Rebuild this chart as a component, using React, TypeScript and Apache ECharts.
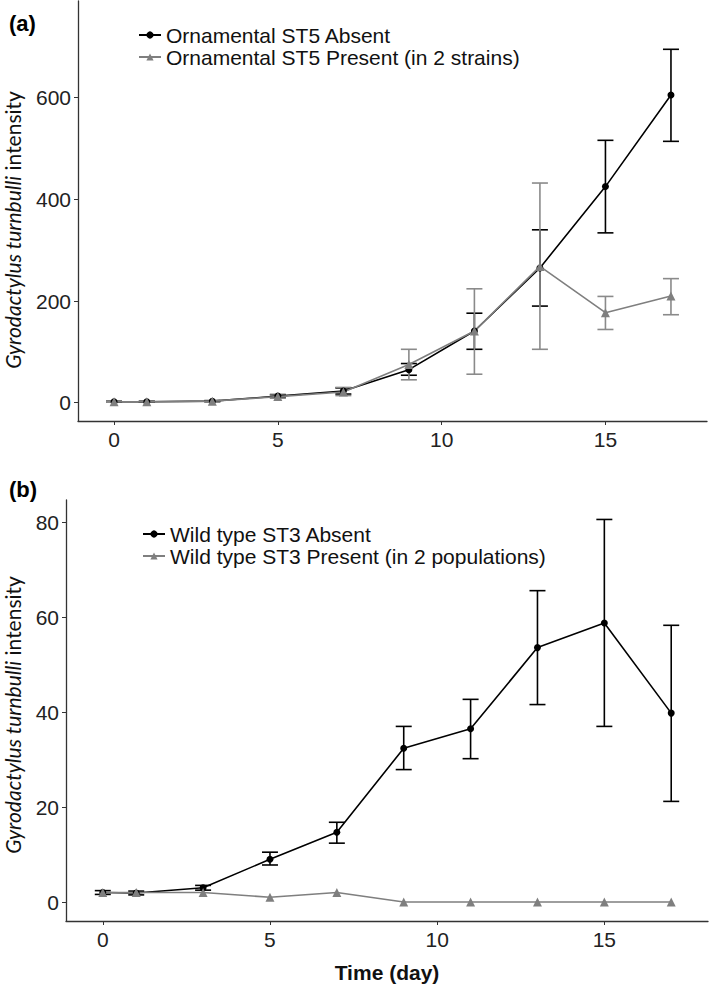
import React, { useEffect, useRef } from "react";
import * as echarts from "echarts";

// ---- Data ----
const days = [0, 1, 3, 5, 7, 9, 11, 13, 15, 17];

// Panel (a): Ornamental
const aAbsentMean = [2, 2, 3, 13, 23, 65, 141, 265, 425, 605];
const aAbsentLow = [1, 1, 2, 10, 17, 54, 105, 190, 334, 514];
const aAbsentHigh = [3, 3, 4, 16, 29, 77, 176, 340, 516, 695];
const aPresentMean = [2, 2, 3, 12, 21, 75, 141, 268, 177, 210];
const aPresentLow = [1, 1, 2, 9, 14, 45, 56, 105, 144, 173];
const aPresentHigh = [3, 3, 4, 15, 30, 105, 224, 432, 209, 244];

// Panel (b): Wild type
const bAbsentMean = [2.0, 1.9, 3.0, 9.0, 14.7, 32.4, 36.5, 53.6, 58.8, 39.8];
const bAbsentLow = [1.6, 1.5, 2.5, 7.8, 12.4, 27.9, 30.2, 41.6, 37.0, 21.2];
const bAbsentHigh = [2.4, 2.3, 3.5, 10.5, 16.8, 37.0, 42.7, 65.6, 80.6, 58.3];
const bPresentMean = [2, 2, 2, 1, 2, 0, 0, 0, 0, 0];

const xTicks = [0, 5, 10, 15];
const aYTicks = [0, 200, 400, 600];
const bYTicks = [0, 20, 40, 60, 80];

const nameAAbsent = "Ornamental ST5 Absent";
const nameAPresent = "Ornamental ST5 Present (in 2 strains)";
const nameBAbsent = "Wild type ST3 Absent";
const nameBPresent = "Wild type ST3 Present (in 2 populations)";

const BLACK = "#000000";
const GRAY = "#7f7f7f";
const AXIS = "#333333";
const TICKFONT = "'Liberation Sans', Arial, sans-serif";

function pairs(xs: number[], ys: number[]) {
  return xs.map((x, i) => [x, ys[i]]);
}
function triples(xs: number[], lo: number[], hi: number[]) {
  return xs.map((x, i) => [x, lo[i], hi[i]]);
}

function errorSeries(name: string, idx: number, data: number[][], color: string) {
  return {
    type: "custom",
    name,
    xAxisIndex: idx,
    yAxisIndex: idx,
    encode: { x: 0, y: [1, 2] },
    data,
    z: 1,
    silent: true,
    renderItem: (params: any, api: any) => {
      const x = api.value(0);
      const lo = api.value(1);
      const hi = api.value(2);
      const pLo = api.coord([x, lo]);
      const pHi = api.coord([x, hi]);
      const w = 8;
      const style = { stroke: color, lineWidth: 1.6 };
      return {
        type: "group",
        children: [
          { type: "line", shape: { x1: pHi[0], y1: pHi[1], x2: pLo[0], y2: pLo[1] }, style },
          { type: "line", shape: { x1: pHi[0] - w, y1: pHi[1], x2: pHi[0] + w, y2: pHi[1] }, style },
          { type: "line", shape: { x1: pLo[0] - w, y1: pLo[1], x2: pLo[0] + w, y2: pLo[1] }, style },
        ],
      };
    },
  };
}

function xAxisCfg(gridIndex: number) {
  return {
    type: "value",
    gridIndex,
    min: -1.1,
    max: 18.1,
    splitLine: { show: false },
    axisLine: { show: true, onZero: false, lineStyle: { color: AXIS, width: 1.3 } },
    axisTick: { show: true, length: 4, customValues: xTicks, lineStyle: { color: AXIS } },
    axisLabel: {
      customValues: xTicks,
      margin: 8,
      fontSize: 21,
      color: "#222",
      fontFamily: TICKFONT,
    },
  };
}

function yAxisCfg(gridIndex: number, min: number, max: number, ticks: number[]) {
  return {
    type: "value",
    gridIndex,
    min,
    max,
    splitLine: { show: false },
    axisLine: { show: true, onZero: false, lineStyle: { color: AXIS, width: 1.3 } },
    axisTick: { show: true, length: 4, customValues: ticks, lineStyle: { color: AXIS } },
    axisLabel: {
      customValues: ticks,
      margin: 7,
      fontSize: 21,
      color: "#222",
      fontFamily: TICKFONT,
    },
  };
}

function lineSeries(name: string, idx: number, data: number[][], color: string, symbol: string, size: number) {
  return {
    type: "line",
    name,
    xAxisIndex: idx,
    yAxisIndex: idx,
    data,
    symbol,
    symbolSize: size,
    z: 3,
    itemStyle: { color },
    lineStyle: { color, width: 1.6 },
  };
}

const ytitle = (y: number) => ({
  type: "text",
  x: 12,
  y,
  rotation: Math.PI / 2,
  style: {
    text: "{i|Gyrodactylus turnbulli} intensity",
    fontFamily: "Lato, 'Open Sans', sans-serif",
    fontSize: 21,
    fill: "#111",
    align: "center",
    verticalAlign: "middle",
    rich: {
      i: { fontStyle: "italic", fontFamily: "Lato, 'Open Sans', sans-serif", fontSize: 21, fill: "#111" },
    },
  },
});

export default function App() {
  const ref = useRef<HTMLDivElement>(null);
  useEffect(() => {
    if (!ref.current) return;
    const chart = echarts.init(ref.current, undefined, { renderer: "svg" });
    const legendText = { fontSize: 21, color: "#111", fontFamily: TICKFONT };
    chart.setOption({
      animation: false,
      backgroundColor: "#ffffff",
      grid: [
        { left: 78, top: 1, width: 629, height: 420 },
        { left: 66, top: 500, width: 642, height: 421 },
      ],
      xAxis: [xAxisCfg(0), xAxisCfg(1)],
      yAxis: [yAxisCfg(0, -36, 790, aYTicks), yAxisCfg(1, -4, 84.7, bYTicks)],
      legend: [
        {
          data: [nameAAbsent, nameAPresent],
          orient: "vertical",
          left: 138,
          top: 24,
          itemWidth: 22,
          itemHeight: 9,
          itemGap: 0,
          padding: 0,
          textStyle: { ...legendText, lineHeight: 22 },
        },
        {
          data: [nameBAbsent, nameBPresent],
          orient: "vertical",
          left: 142,
          top: 523,
          itemWidth: 22,
          itemHeight: 9,
          itemGap: 0,
          padding: 0,
          textStyle: { ...legendText, lineHeight: 22 },
        },
      ],
      series: [
        errorSeries("errAAbsent", 0, triples(days, aAbsentLow, aAbsentHigh), BLACK),
        errorSeries("errAPresent", 0, triples(days, aPresentLow, aPresentHigh), "#8a8a8a"),
        lineSeries(nameAAbsent, 0, pairs(days, aAbsentMean), BLACK, "circle", 7),
        lineSeries(nameAPresent, 0, pairs(days, aPresentMean), GRAY, "triangle", 9),
        errorSeries("errBAbsent", 1, triples(days, bAbsentLow, bAbsentHigh), BLACK),
        lineSeries(nameBAbsent, 1, pairs(days, bAbsentMean), BLACK, "circle", 7),
        lineSeries(nameBPresent, 1, pairs(days, bPresentMean), GRAY, "triangle", 9),
      ],
      graphic: [
        {
          type: "text",
          x: 9,
          y: 23,
          style: {
            text: "(a)",
            fontFamily: TICKFONT,
            fontWeight: "bold",
            fontSize: 22,
            fill: "#000",
            verticalAlign: "middle",
          },
        },
        {
          type: "text",
          x: 9,
          y: 489,
          style: {
            text: "(b)",
            fontFamily: TICKFONT,
            fontWeight: "bold",
            fontSize: 22,
            fill: "#000",
            verticalAlign: "middle",
          },
        },
        ytitle(230),
        ytitle(715),
        {
          type: "text",
          x: 387,
          y: 972,
          style: {
            text: "Time (day)",
            fontFamily: TICKFONT,
            fontWeight: "bold",
            fontSize: 21,
            fill: "#111",
            align: "center",
            verticalAlign: "middle",
          },
        },
      ],
    });
    return () => chart.dispose();
  }, []);
  return (
    <div
      ref={ref}
      style={{ position: "absolute", left: 0, top: 0, width: 709, height: 986, background: "#fff" }}
    />
  );
}
